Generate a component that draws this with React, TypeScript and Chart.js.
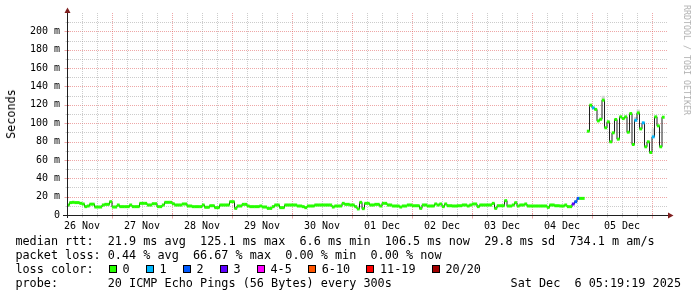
import React, { useEffect, useRef } from 'react';
import { Chart, registerables } from 'chart.js';

Chart.register(...registerables);

// ---------- data ----------
const HOURS = 240;
const dayLabels = ['26 Nov', '27 Nov', '28 Nov', '29 Nov', '30 Nov', '01 Dec', '02 Dec', '03 Dec', '04 Dec', '05 Dec'];
const yLabels = ['0', '20 m', '40 m', '60 m', '80 m', '100 m', '120 m', '140 m', '160 m', '180 m', '200 m'];

// hourly median RTT (ms), hours 0..206
const medianLowMs = [
  10.9, 13.5, 13.8, 13.5, 13.5, 12.7, 12.0, 9.1, 9.8, 11.8,
  11.8, 8.7, 8.7, 8.7, 10.9, 11.6, 11.6, 14.5, 8.7, 8.7,
  10.9, 9.1, 9.1, 9.1, 9.1, 10.9, 9.1, 9.1, 9.1, 12.7,
  12.7, 12.7, 10.9, 10.9, 12.3, 12.3, 9.1, 9.1, 10.9, 13.8,
  13.8, 13.8, 12.3, 10.9, 10.9, 10.9, 12.0, 12.0, 9.8, 9.8,
  9.1, 9.1, 9.1, 9.1, 10.9, 8.4, 8.4, 10.1, 10.1, 8.0,
  8.0, 10.9, 10.9, 10.9, 10.9, 14.5, 14.5, 7.2, 9.8, 9.8,
  11.6, 11.6, 9.8, 9.1, 9.1, 9.1, 9.1, 9.8, 8.7, 8.7,
  7.2, 7.2, 9.1, 10.9, 10.9, 8.0, 8.0, 10.9, 10.9, 10.9,
  10.9, 10.9, 9.8, 9.8, 9.1, 8.0, 9.8, 9.8, 9.8, 10.9,
  10.9, 10.9, 10.9, 10.9, 10.9, 10.9, 8.7, 9.8, 9.8, 9.8,
  12.7, 11.6, 11.6, 10.9, 10.9, 9.1, 6.6, 13.8, 6.9, 12.7,
  12.7, 10.9, 10.9, 11.6, 11.6, 9.8, 12.7, 12.7, 10.9, 10.9,
  9.8, 9.8, 9.8, 8.7, 9.8, 9.8, 10.9, 10.9, 10.1, 10.1,
  10.1, 7.2, 10.9, 10.9, 9.8, 9.8, 9.8, 12.0, 10.9, 12.0,
  9.1, 12.0, 10.1, 10.1, 9.8, 9.8, 10.1, 10.1, 10.9, 10.9,
  9.8, 10.9, 12.0, 12.0, 9.1, 10.9, 10.9, 10.9, 10.9, 10.9,
  12.7, 7.2, 10.1, 10.1, 10.1, 15.6, 9.8, 9.8, 10.9, 13.4,
  9.8, 10.9, 10.9, 12.0, 9.8, 9.8, 9.8, 9.8, 9.8, 9.8,
  9.8, 9.8, 8.3, 10.9, 10.9, 10.1, 10.1, 9.8, 9.8, 10.9,
  9.1, 9.1, 12.0, 14.5, 18.1, 18.1, 18.1,
];
// hourly median RTT (ms), hours 208..238
const medianHighMs = [
  91.3, 119.6, 116.7, 115.0, 102.5, 104.3, 125.1, 95.0, 101.5, 79.7,
  89.5, 104.0, 82.6, 106.9, 105.0, 106.9, 90.2, 110.5, 76.8, 103.2,
  111.2, 93.8, 100.4, 74.3, 79.7, 68.1, 85.1, 106.9, 97.1, 74.3,
  106.5,
];
const medianMs: (number | null)[] = [...medianLowMs, null, ...medianHighMs, null];

// hours with lost pings, and how many of the 20 were lost
const lossHours = [202, 203, 204, 210, 227, 230, 234];
const lossPings = [3, 2, 2, 1, 1, 1, 1];

// faint "smoke" (ping spread) visible at a few hours
const smokeHours = [214, 227, 228, 234];
const smokeLowMs = [125.1, 103.2, 111.2, 85.1];
const smokeHighMs = [129.5, 106.5, 114.5, 94.0];

const lossLabels = ['0', '1', '2', '3', '4-5', '6-10', '11-19', '20/20'];
const lossColors = ['#26ff00', '#00b8ff', '#0059ff', '#5e00ff', '#ff00ff', '#ff5500', '#ff0000', '#a10000'];

const rttStats = ['21.9 ms avg', '125.1 ms max', '6.6 ms min', '106.5 ms now', '29.8 ms sd', '734.1 m am/s'];
const lossStats = ['0.44 % avg', '66.67 % max', '0.00 % min', '0.00 % now'];
const probeText = '20 ICMP Echo Pings (56 Bytes) every 300s';
const stampText = 'Sat Dec  6 05:19:19 2025';

// ---------- helpers ----------
function bucket(n: number): number {
  if (n <= 0) return 0;
  if (n <= 3) return n;
  if (n <= 5) return 4;
  if (n <= 10) return 5;
  if (n <= 19) return 6;
  return 7;
}

const MONO = "'DejaVu Sans Mono', monospace";
const FS = 11.8;
const CH = FS * 0.60205; // mono advance
const MAJOR = 'rgba(222,79,79,0.5)';
const MINOR = 'rgba(143,143,143,0.45)';
const NONE = 'rgba(0,0,0,0)';

const X_MINOR_STEP = 6; // hours
const Y_MINOR_STEP = 10; // ms
const Y_MAX = 220;
const isXMajor = (v: number) => (v - 18) % 24 === 0;
const isYMajor = (v: number) => v % 20 === 0;

const gridPlugin = {
  id: 'rrdGrid',
  beforeDatasetsDraw(chart: any) {
    const { ctx, chartArea, scales } = chart;
    const { left, right, top, bottom } = chartArea;
    const xs = scales.x;
    const ys = scales.y;
    ctx.save();
    ctx.lineWidth = 1;
    ctx.setLineDash([1, 1]);
    for (let v = Y_MINOR_STEP; v < Y_MAX; v += Y_MINOR_STEP) {
      const p = Math.round(ys.getPixelForValue(v)) + 0.5;
      ctx.strokeStyle = isYMajor(v) ? MAJOR : MINOR;
      ctx.beginPath();
      ctx.moveTo(left + 1, p);
      ctx.lineTo(right, p);
      ctx.stroke();
    }
    for (let v = X_MINOR_STEP; v < HOURS; v += X_MINOR_STEP) {
      const p = Math.round(xs.getPixelForValue(v)) + 0.5;
      ctx.strokeStyle = isXMajor(v) ? MAJOR : MINOR;
      ctx.beginPath();
      ctx.moveTo(p, top);
      ctx.lineTo(p, bottom);
      ctx.stroke();
    }
    ctx.restore();
  },
  afterDraw(chart: any) {
    const { ctx, chartArea, scales } = chart;
    const { left, right, top, bottom } = chartArea;
    const xs = scales.x;
    const ys = scales.y;
    const ax = Math.round(left) + 0.5;
    const ay = Math.round(bottom) + 0.5;
    ctx.save();
    ctx.lineWidth = 1;
    // tick marks
    for (let v = X_MINOR_STEP; v < HOURS; v += X_MINOR_STEP) {
      const p = Math.round(xs.getPixelForValue(v)) + 0.5;
      const maj = isXMajor(v);
      ctx.strokeStyle = maj ? MAJOR : MINOR;
      ctx.beginPath();
      ctx.moveTo(p, ay - 2);
      ctx.lineTo(p, ay + (maj ? 3 : 2));
      ctx.stroke();
    }
    for (let v = Y_MINOR_STEP; v < Y_MAX; v += Y_MINOR_STEP) {
      const p = Math.round(ys.getPixelForValue(v)) + 0.5;
      const maj = isYMajor(v);
      ctx.strokeStyle = maj ? MAJOR : MINOR;
      ctx.beginPath();
      ctx.moveTo(ax - (maj ? 3 : 2), p);
      ctx.lineTo(ax + 2, p);
      ctx.stroke();
    }
    // axes
    ctx.strokeStyle = '#1f1f1f';
    ctx.beginPath();
    ctx.moveTo(left - 4, ay);
    ctx.lineTo(right + 1, ay);
    ctx.moveTo(ax, bottom + 3);
    ctx.lineTo(ax, top);
    ctx.stroke();
    // arrows
    ctx.fillStyle = '#7f1f1f';
    ctx.beginPath();
    ctx.moveTo(right + 1, ay - 3);
    ctx.lineTo(right + 6.5, ay);
    ctx.lineTo(right + 1, ay + 3);
    ctx.closePath();
    ctx.fill();
    ctx.beginPath();
    ctx.moveTo(ax - 3, top);
    ctx.lineTo(ax, top - 5.5);
    ctx.lineTo(ax + 3, top);
    ctx.closePath();
    ctx.fill();
    ctx.restore();
  },
};

function Txt(props: { x: number; top: number; text: string; right?: boolean }) {
  const st: any = {
    position: 'absolute',
    top: props.top,
    fontFamily: MONO,
    fontSize: FS,
    lineHeight: '14px',
    whiteSpace: 'pre',
    color: '#000',
  };
  if (props.right) st.right = 697 - props.x;
  else st.left = props.x;
  return <div style={st}>{props.text}</div>;
}

export default function App() {
  const ref = useRef<HTMLCanvasElement>(null);

  useEffect(() => {
    const lossMap = new Map<number, number>();
    lossHours.forEach((h, k) => lossMap.set(h, lossPings[k]));
    const pointColors = medianMs.map((_, i) => lossColors[bucket(lossMap.get(i) ?? 0)]);

    const chart = new Chart(ref.current!, {
      type: 'line',
      data: {
        datasets: [
          {
            type: 'bar',
            data: smokeHours.map((h, k) => ({ x: h + 0.5, y: [smokeLowMs[k], smokeHighMs[k]] })) as any,
            backgroundColor: '#d4d4d4',
            borderWidth: 0,
            barThickness: 2.5,
            grouped: false,
            order: 2,
          } as any,
          {
            type: 'line',
            data: medianMs.map((v, i) => ({ x: i + 0.5, y: v })) as any,
            borderColor: '#202020',
            borderWidth: 1,
            stepped: 'middle',
            spanGaps: false,
            pointStyle: 'line',
            pointRadius: 1.4,
            pointHoverRadius: 1.4,
            pointBorderWidth: 3,
            pointBorderColor: pointColors,
            pointBackgroundColor: pointColors,
            order: 1,
          } as any,
        ],
      },
      options: {
        responsive: false,
        animation: false,
        devicePixelRatio: 1,
        events: [],
        layout: { padding: { left: 0, right: 30, top: 13, bottom: 60 } },
        plugins: { legend: { display: false }, tooltip: { enabled: false } },
        scales: {
          x: {
            type: 'linear',
            min: 0,
            max: HOURS,
            offset: false,
            afterBuildTicks: (axis: any) => {
              axis.ticks = Array.from({ length: HOURS / X_MINOR_STEP + 1 }, (_, k) => ({ value: k * X_MINOR_STEP }));
            },
            afterFit: (axis: any) => {
              axis.height = 22;
            },
            ticks: {
              autoSkip: false,
              maxRotation: 0,
              minRotation: 0,
              padding: 2,
              color: '#000',
              font: { family: MONO, size: 10 },
              callback: (v: any) => {
                const k = (Number(v) - 6) / 24;
                return Number.isInteger(k) && k >= 0 && k < dayLabels.length ? dayLabels[k] : '';
              },
            },
            grid: {
              offset: false,
              drawOnChartArea: false,
              color: NONE,
              tickColor: NONE,
              tickLength: 3,
            },
            border: { display: false },
          } as any,
          y: {
            type: 'linear',
            min: 0,
            max: Y_MAX,
            afterBuildTicks: (axis: any) => {
              axis.ticks = Array.from({ length: Y_MAX / Y_MINOR_STEP + 1 }, (_, k) => ({ value: k * Y_MINOR_STEP }));
            },
            afterFit: (axis: any) => {
              axis.width = 67;
            },
            ticks: {
              autoSkip: false,
              padding: 5,
              color: '#000',
              font: { family: MONO, size: 10 },
              callback: (v: any) => {
                const n = Number(v);
                return n % 20 === 0 && n / 20 < yLabels.length ? yLabels[n / 20] : '';
              },
            },
            grid: {
              drawOnChartArea: false,
              color: NONE,
              tickColor: NONE,
              tickLength: 2,
            },
            border: { display: false },
          } as any,
        },
      },
      plugins: [gridPlugin],
    });
    return () => chart.destroy();
  }, []);

  // legend boxes follow the label widths (mono font)
  const boxX: number[] = [];
  lossLabels.forEach((lab, k) => {
    boxX.push(k === 0 ? 108.7 : boxX[k - 1] + 37 + (lossLabels[k - 1].length - 1) * CH);
  });

  return (
    <div style={{ position: 'fixed', left: 0, top: 0, width: 697, height: 297, background: '#fff', overflow: 'hidden' }}>
      <canvas ref={ref} width={697} height={297} style={{ position: 'absolute', left: 0, top: 0, width: 697, height: 297 }} />

      <div
        style={{
          position: 'absolute',
          left: 10.5,
          top: 113.5,
          transform: 'translate(-50%, -50%) rotate(-90deg)',
          fontFamily: MONO,
          fontSize: FS,
          lineHeight: '14px',
          whiteSpace: 'pre',
          color: '#000',
        }}
      >
        Seconds
      </div>
      <div
        style={{
          position: 'absolute',
          left: 686.5,
          top: 59.5,
          transform: 'translate(-50%, -50%) rotate(90deg)',
          fontFamily: MONO,
          fontSize: 8.3,
          lineHeight: '10px',
          whiteSpace: 'pre',
          color: '#b0b0b0',
        }}
      >
        RRDTOOL / TOBI OETIKER
      </div>

      <Txt x={15.4} top={234.2} text={'median rtt:  ' + rttStats.join('  ')} />
      <Txt x={15.4} top={248} text={'packet loss: ' + lossStats.join('  ')} />
      <Txt x={15.4} top={261.8} text="loss color:" />
      {lossLabels.map((lab, k) => (
        <React.Fragment key={'c' + k}>
          <div
            style={{
              position: 'absolute',
              left: boxX[k],
              top: 265,
              width: 6,
              height: 6,
              border: '1px solid #000',
              background: lossColors[k],
            }}
          />
          <Txt x={boxX[k] + 13.8} top={261.8} text={lab} />
        </React.Fragment>
      ))}
      <Txt x={15.4} top={275.6} text={'probe:       ' + probeText} />
      <Txt x={681} top={275.6} text={stampText} right />
    </div>
  );
}
